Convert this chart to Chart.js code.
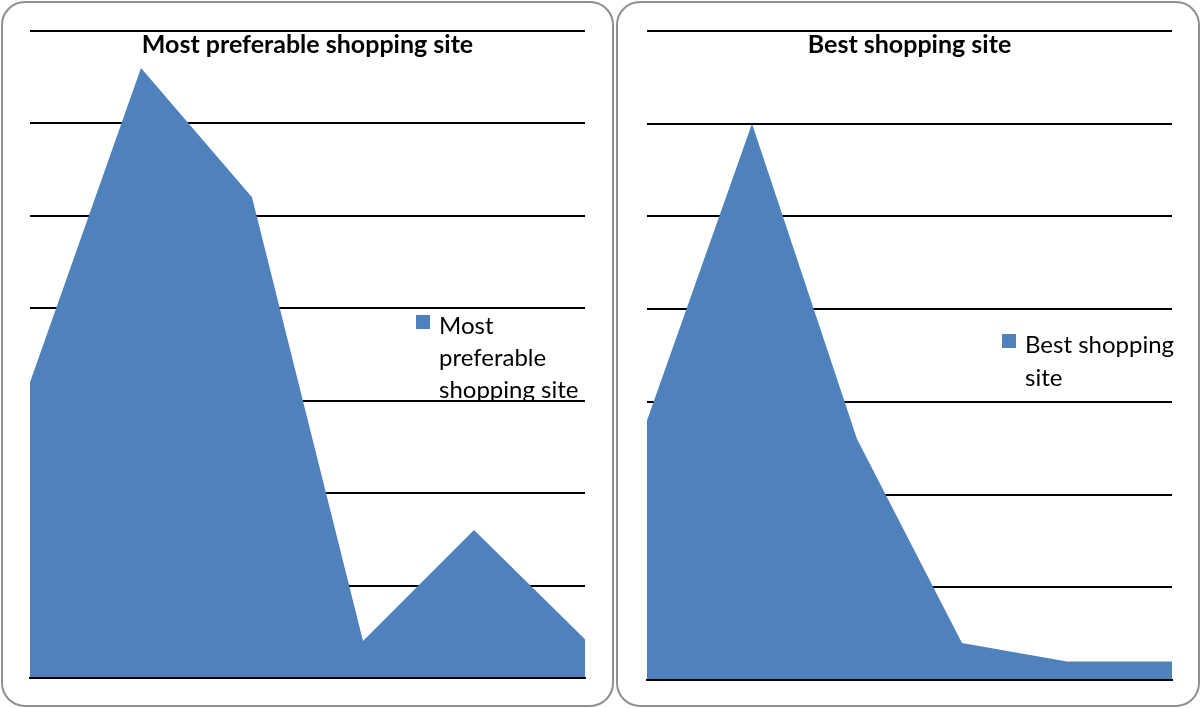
<!DOCTYPE html>
<html lang="en">
  <head>
    <meta charset="UTF-8" />
    <title>Shopping site area charts</title>
    <script src="https://cdn.jsdelivr.net/npm/chart.js"></script>
    <style>
      body { margin: 0; background: #fff; }
      .panel { position: absolute; top: 0; height: 708px; }
      .panel canvas { position: absolute; left: 0; top: 0; }
      .frame {
        position: absolute; left: 1px; top: 1px; right: 1px; bottom: 1px;
        border: 2px solid #8f8f8f; border-radius: 24px; pointer-events: none;
      }
    </style>
  </head>
  <body>
    <div class="panel" style="left: 0; width: 615px">
      <canvas id="left-chart"></canvas>
      <div class="frame"></div>
    </div>
    <div class="panel" style="left: 615px; width: 586px">
      <canvas id="right-chart"></canvas>
      <div class="frame"></div>
    </div>
    <script>
      // categories are not printed on the picture
      const sites = ["Site 1", "Site 2", "Site 3", "Site 4", "Site 5", "Site 6"];
      const preferableValues = [16, 33, 26, 2, 8, 2.1];
      const bestValues = [14, 30, 13, 2, 1, 1];
      const yMax = 35;
      const yStep = 5;

      const fillColor = "#4f81bd";

      // title and legend sit on top of the plot area, like the office chart
      const overlayPlugin = {
        id: "overlay",
        afterDraw(chart, args, opts) {
          const ctx = chart.ctx;
          const area = chart.chartArea;
          ctx.save();
          ctx.fillStyle = "#000";
          ctx.textAlign = "center";
          ctx.textBaseline = "middle";
          ctx.font = "bold 25px Lato";
          ctx.fillText(opts.title, (area.left + area.right) / 2, opts.titleY);

          ctx.fillStyle = fillColor;
          ctx.fillRect(opts.legendX, opts.legendY, 14, 14);
          ctx.fillStyle = "#000";
          ctx.textAlign = "left";
          ctx.font = "24px Lato";
          opts.lines.forEach((line, i) => {
            ctx.fillText(line, opts.legendX + 23, opts.legendY + 11 + i * opts.lineGap);
          });
          ctx.restore();
        },
      };

      function makeChart(id, label, values, padding, overlay) {
        return new Chart(document.getElementById(id), {
          type: "line",
          data: {
            labels: sites,
            datasets: [
              {
                label: label,
                data: values,
                fill: "origin",
                backgroundColor: fillColor,
                borderWidth: 0,
                pointRadius: 0,
                tension: 0,
              },
            ],
          },
          options: {
            responsive: true,
            maintainAspectRatio: false,
            animation: false,
            layout: { padding: padding },
            scales: {
              x: {
                ticks: { display: false },
                grid: { display: false },
                border: { display: true, color: "#000", width: 2, z: 1 },
              },
              y: {
                min: 0,
                max: yMax,
                ticks: { display: false, stepSize: yStep },
                grid: { color: "#000", lineWidth: 2, drawTicks: false },
                border: { display: false },
              },
            },
            plugins: {
              legend: { display: false },
              tooltip: { enabled: false },
              overlay: overlay,
            },
          },
          plugins: [overlayPlugin],
        });
      }

      makeChart(
        "left-chart",
        "Most preferable shopping site",
        preferableValues,
        { left: 30, right: 30, top: 31, bottom: 22 },
        {
          title: "Most preferable shopping site",
          titleY: 45,
          legendX: 416,
          legendY: 315,
          lineGap: 32,
          lines: ["Most", "preferable", "shopping site"],
        }
      );

      makeChart(
        "right-chart",
        "Best shopping site",
        bestValues,
        { left: 32, right: 29, top: 31, bottom: 20 },
        {
          title: "Best shopping site",
          titleY: 45,
          legendX: 387,
          legendY: 334,
          lineGap: 33,
          lines: ["Best shopping", "site"],
        }
      );
    </script>
  </body>
</html>
